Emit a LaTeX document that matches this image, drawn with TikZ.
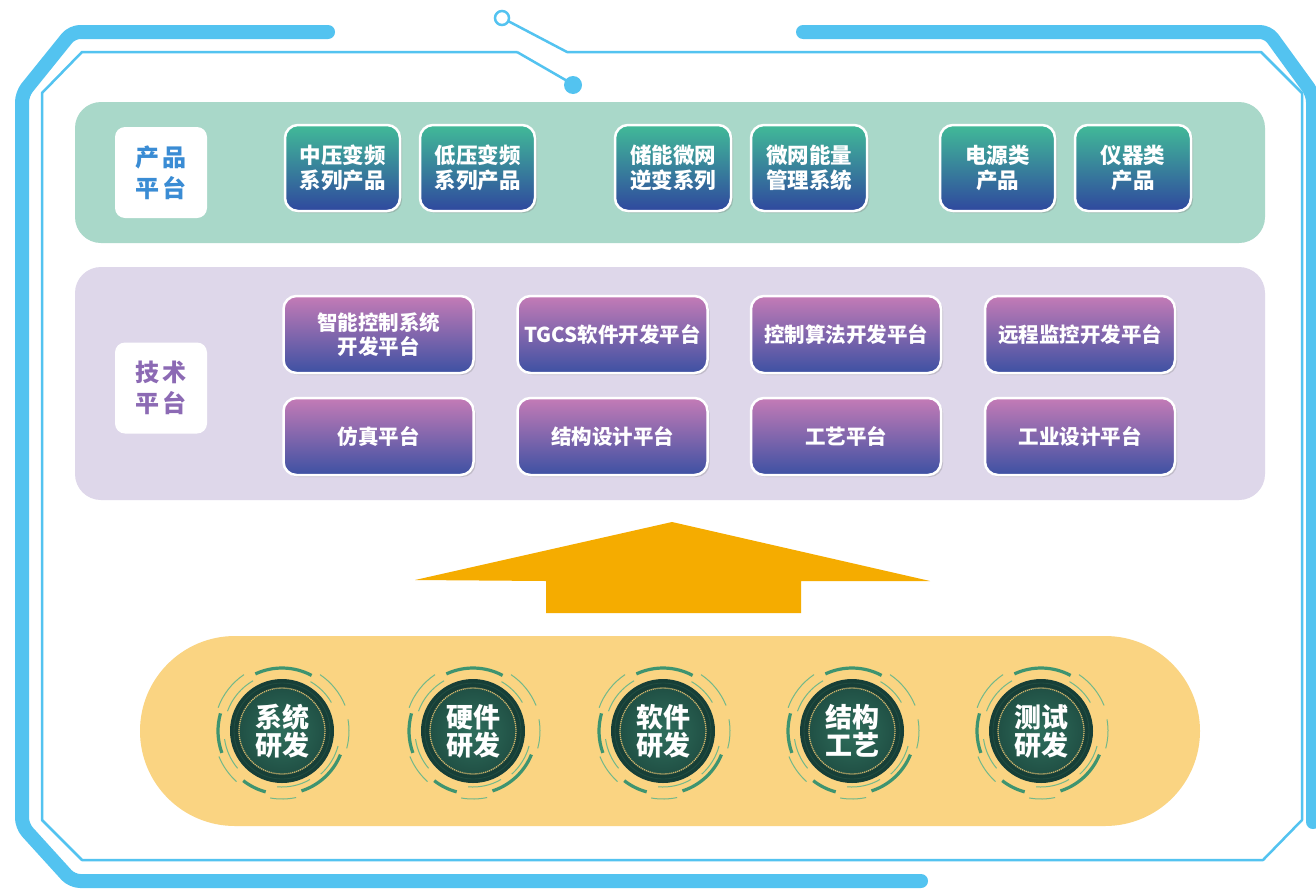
\documentclass[tikz,border=0pt]{standalone}
\usepackage{fontspec}
\setmainfont{Noto Sans CJK SC}
\usetikzlibrary{shadows}
\definecolor{fblue}{HTML}{53C3F0}
\definecolor{gpanel}{HTML}{A9D8C9}
\definecolor{ppanel}{HTML}{DED7EA}
\definecolor{ypanel}{HTML}{FAD482}
\definecolor{arrowc}{HTML}{F5AC00}
\definecolor{pg1}{HTML}{41BA98}
\definecolor{pg2}{HTML}{2F489E}
\definecolor{tg1}{HTML}{C47BB6}
\definecolor{tg2}{HTML}{3D51A3}
\definecolor{lblue}{HTML}{3A8CD4}
\definecolor{lpurple}{HTML}{8C6AB4}
\definecolor{bdark}{HTML}{173F37}
\definecolor{bmid}{HTML}{1D4A40}
\definecolor{binner}{HTML}{2F6E5C}
\definecolor{bgold}{HTML}{CDB46C}
\definecolor{darcc}{HTML}{3E9470}
\definecolor{larcc}{HTML}{72B88A}
\tikzset{
  framethick/.style={draw=fblue, line width=14, line cap=round, line join=round},
  framethin/.style={draw=fblue, line width=2.5, line join=round},
  panel/.style={rounded corners=26},
  labelbox/.style={rounded corners=10, fill=white, minimum width=92, minimum height=91, inner sep=0, align=center, font=\bfseries\fontsize{24}{31}\selectfont},
  prodbox/.style={rounded corners=13, draw=white, line width=2.5, top color=pg1, bottom color=pg2, text=white, align=center, inner sep=0, minimum height=86, font=\bfseries\fontsize{21.5}{25.5}\selectfont, drop shadow={opacity=0.35, shadow xshift=2pt, shadow yshift=-2pt}},
  techbox/.style={rounded corners=13, draw=white, line width=2.5, top color=tg1, bottom color=tg2, text=white, align=center, inner sep=0, minimum width=190, minimum height=77, font=\bfseries\fontsize{20.5}{24}\selectfont, drop shadow={opacity=0.3, shadow xshift=2pt, shadow yshift=-2pt}},
  badge/.style={circle, minimum size=104, inner sep=0, fill=bdark, text=white, align=center, font=\bfseries\fontsize{27}{28}\selectfont,
    path picture={
      \shade[inner color=binner, outer color=bmid] (path picture bounding box.center) circle[radius=43];
      \draw[bgold, line width=1.3, dash pattern=on 1.2pt off 0.8pt] (path picture bounding box.center) circle[radius=43];
      \draw[binner!70!black, line width=0.8] (path picture bounding box.center) circle[radius=48];
    }},
  darc/.style={draw=darcc, line width=3.2},
  larc/.style={draw=larcc, line width=1},
}
\newcommand\bdeco[1]{%
  \foreach \sa/\ea/\rr in {105/128/63, 22/72/63, 245/298/63, 160/196/64}{
    \draw[darc] ([shift={(\sa:\rr)}]#1.center) arc[start angle=\sa, end angle=\ea, radius=\rr];
  }
  \foreach \sa/\ea/\rr in {78/100/68, 132/158/68, 200/236/68, 304/338/68, 350/375/67, 140/172/58, 200/240/58, 15/48/58, 300/330/57, 60/95/56}{
    \draw[larc] ([shift={(\sa:\rr)}]#1.center) arc[start angle=\sa, end angle=\ea, radius=\rr];
  }
}
\begin{document}
\begin{tikzpicture}[x=1pt,y=-1pt]
\useasboundingbox (0,0) rectangle (1316,889);
\fill[white] (0,0) rectangle (1316,889);

% outer frame
\draw[framethick, rounded corners=8] (328,32) -- (72,32) -- (22,94) -- (22,826) -- (72,881) -- (921,881);
\draw[framethick, rounded corners=8] (803,32) -- (1268,32) -- (1313,94) -- (1313,822);
\draw[framethin] (517,52) -- (82,52) -- (42,93) -- (42,820) -- (82,860) -- (1263,860) -- (1302,820) -- (1302,93) -- (1261,52) -- (567,52) -- (508,21);
\draw[framethin] (517,52) -- (569,82);
\draw[fblue, line width=2.5, fill=white] (502,18) circle[radius=7];
\fill[fblue] (573,85) circle[radius=9];

% panels
\fill[gpanel, panel] (75,102) rectangle (1265,243);
\fill[ppanel, panel] (75,267) rectangle (1265,500);
\fill[ypanel, rounded corners=95] (140,636) rectangle (1200,826);

% labels
\node[labelbox, text=lblue] (lp) at (161,172.5) {产\hspace{3pt}品\\平\hspace{3pt}台};
\node[labelbox, text=lpurple] (lt) at (161,388) {技\hspace{3pt}术\\平\hspace{3pt}台};

% product boxes
\node[prodbox, minimum width=115] (p1) at (342.5,168) {中压变频\\系列产品};
\node[prodbox, minimum width=115] (p2) at (477.5,168) {低压变频\\系列产品};
\node[prodbox, minimum width=116] (p3) at (673,168) {储能微网\\逆变系列};
\node[prodbox, minimum width=116] (p4) at (809,168) {微网能量\\管理系统};
\node[prodbox, minimum width=115] (p5) at (997.5,168) {电源类\\产品};
\node[prodbox, minimum width=116] (p6) at (1133,168) {仪器类\\产品};

% tech boxes
\node[techbox] (t1) at (378.5,334.5) {智能控制系统\\开发平台};
\node[techbox] (t2) at (612.5,334.5) {TGCS软件开发平台};
\node[techbox] (t3) at (846,334.5) {控制算法开发平台};
\node[techbox] (t4) at (1080,334.5) {远程监控开发平台};
\node[techbox] (t5) at (378.5,436.5) {仿真平台};
\node[techbox] (t6) at (612.5,436.5) {结构设计平台};
\node[techbox] (t7) at (846,436.5) {工艺平台};
\node[techbox] (t8) at (1080,436.5) {工业设计平台};

% big arrow
\fill[arrowc] (672,522) -- (930,581) -- (801,581) -- (801,613) -- (546,613) -- (546,581) -- (415,580) -- cycle;

% badges
\node[badge] (b1) at (282,731) {系统\\研发};
\node[badge] (b2) at (473,731) {硬件\\研发};
\node[badge] (b3) at (663,731) {软件\\研发};
\node[badge] (b4) at (852,731) {结构\\工艺};
\node[badge] (b5) at (1041,731) {测试\\研发};
\bdeco{b1}\bdeco{b2}\bdeco{b3}\bdeco{b4}\bdeco{b5}
\end{tikzpicture}
\end{document}
